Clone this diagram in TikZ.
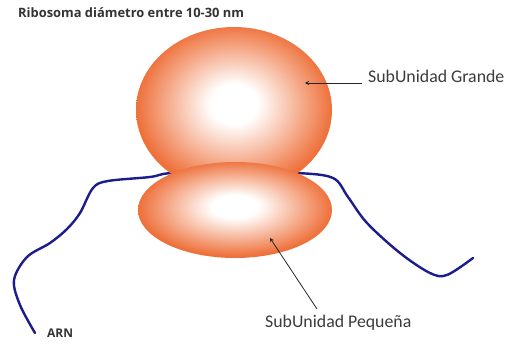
\documentclass[tikz,border=0pt]{standalone}
\usepackage{fontspec}
\setmainfont{Carlito}
\newfontfamily\headfont{Open Sans}
\usetikzlibrary{shapes.geometric,arrows.meta}
\definecolor{ribo}{RGB}{238,112,58}
\definecolor{ribodark}{RGB}{230,98,44}
\definecolor{rnablue}{RGB}{28,28,140}
\definecolor{labelgray}{RGB}{60,60,60}
% white glow in the middle of each subunit, fading to orange well before the rim
\pgfdeclareradialshading{subglow}{\pgfpoint{0bp}{2bp}}{%
  color(0bp)=(white); color(6bp)=(white); color(25bp)=(ribo); color(42bp)=(ribodark); color(50bp)=(ribodark)}
\tikzset{
  subunit/.style={ellipse, draw=none, inner sep=0pt, shade, shading=subglow},
  pointer/.style={draw=black!85, line width=0.8pt, -{Stealth[length=4pt,width=4pt]}},
  label text/.style={text=labelgray, font=\fontsize{17.8}{20}\selectfont, inner sep=0pt},
  tag text/.style={text=black!80, inner sep=0pt},
}
\begin{document}
\begin{tikzpicture}[x=1pt,y=-1pt]
\useasboundingbox[fill=white] (0,0) rectangle (508,345);

% messenger RNA strand, passing between the two subunits
\draw[rnablue, line width=2.4pt, line cap=round, line join=round]
  plot[smooth, tension=0.55] coordinates {
    (35,333) (20,305) (14,280) (27,257) (50,243) (67,229) (80,213)
    (93,188) (108,181) (150,177) (172,173) (235,172) (297,173)
    (333,178) (348,197) (367,223) (400,253) (430,273) (447,275) (473,258)};

% large and small subunits
\node[subunit, minimum width=196pt, minimum height=166pt] (grande) at (234,110) {};
\node[subunit, minimum width=194pt, minimum height=96pt] (pequena) at (235,210) {};

% texts
\node[tag text, anchor=base west, font=\headfont\bfseries\fontsize{12.9}{14}\selectfont]
  (title) at (18,18) {Ribosoma diámetro entre 10-30 nm};
\node[label text, anchor=base west] (lblG) at (368,82) {SubUnidad Grande};
\node[label text, anchor=base west] (lblP) at (265,327) {SubUnidad Pequeña};
\node[tag text, anchor=base west, font=\headfont\bfseries\fontsize{12}{14}\selectfont]
  (arn) at (47,337) {ARN};

% pointers into each subunit
\coordinate (gstart) at (362,83);
\coordinate (gpt) at (305,83);
\coordinate (pstart) at (317,309);
\coordinate (ppt) at (270,238);
\draw[pointer] (gstart) -- (gpt);
\draw[pointer] (pstart) -- (ppt);
\end{tikzpicture}
\end{document}
